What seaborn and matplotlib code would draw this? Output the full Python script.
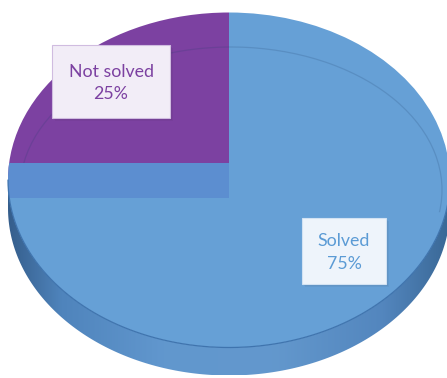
import numpy as np
import matplotlib
matplotlib.use("Agg")
import matplotlib.pyplot as plt
from matplotlib.patches import Ellipse, Polygon, Rectangle, Arc
from matplotlib.colors import LinearSegmentedColormap
import seaborn as sns

# data
categories = ["Solved", "Not solved"]
shares = [75, 25]

sns.set_theme(style="white")
plt.rcParams["font.family"] = ["Lato", "DejaVu Sans"]

face_colors = sns.color_palette(["#66A0D6", "#7C41A1"])
text_colors = ["#5B9BD5", "#7C41A1"]
box_fill = ["#EEF4FB", "#F2EDF7"]
box_edge = ["#D2E2F3", "#D0BCE0"]

W, H = 447, 378
fig = plt.figure(figsize=(W / 100, H / 100), dpi=100)
ax = fig.add_axes([0, 0, 1, 1])

# top face geometry in pixels; the pie lives in unit coordinates
cx, cy, rx, ry = 229.0, 180.0, 221.0, 167.5
depth = 28.0 / ry


def px(x, y):
    return (x - cx) / rx, (cy - y) / ry


# side wall of the disc, shaded darker towards both ends
theta = np.linspace(np.pi, 2 * np.pi, 200)
upper = np.column_stack([np.cos(theta), np.sin(theta)])
lower = np.column_stack([np.cos(theta[::-1]), np.sin(theta[::-1]) - depth])
wall = Polygon(np.vstack([upper, lower]), closed=True, fc="none", ec="none",
               transform=ax.transData)
ax.add_patch(wall)
wall_cmap = LinearSegmentedColormap.from_list(
    "wall", [(0.0, "#355E8C"), (0.12, "#4F84BC"), (0.35, "#6197CE"),
             (0.6, "#6398CD"), (0.85, "#5386BE"), (1.0, "#3A6896")])
grad = np.linspace(0, 1, 256).reshape(1, -1)
img = ax.imshow(grad, cmap=wall_cmap, extent=(-1, 1, -1 - depth, 0.05),
                aspect="auto", zorder=0.5, interpolation="bicubic")
img.set_clip_path(wall)

# top face slices
wedges, _ = ax.pie(shares, colors=face_colors, startangle=90, counterclock=False,
                   radius=1, center=(0, 0), wedgeprops=dict(linewidth=0))
for w in wedges:
    w.set_zorder(1)

# bevel ring on the upper half of the face
rcx, rcy = px(231, 190)
ring = Arc((rcx, rcy), 2 * 211 / rx, 2 * 143 / ry, theta1=-8, theta2=180,
           color="#1F3F6A", alpha=0.18, lw=0.9, zorder=2)
ax.add_patch(ring)

# cut face strip along the nine o'clock edge
face_clip = Ellipse((0, 0), 2, 2, transform=ax.transData)
bx0, by0 = px(0, 198)
bx1, by1 = px(cx, 163)
band = Rectangle((-1.1, by0), 1.1, by1 - by0, fc="#5C8ED0", ec="none", zorder=3)
ax.add_patch(band)
band.set_clip_path(face_clip)

# rim line where the face meets the wall
ax.plot(np.cos(theta), np.sin(theta), color="#3F74AE", lw=0.9, zorder=4)

# data labels
label_boxes = {"Solved": (302, 218, 386, 284), "Not solved": (52, 45, 170, 118)}
for i, (name, val) in enumerate(zip(categories, shares)):
    x0, y0, x1, y1 = label_boxes[name]
    pct = 100 * val / sum(shares)
    # soft shadow
    for k, a in enumerate([0.05, 0.05, 0.04]):
        sx, sy = px(x0 + 1 + k, y1 + 1 + k)
        ex, ey = px(x1 + 1 + k, y0 + 1 + k)
        ax.add_patch(Rectangle((sx, sy), ex - sx, ey - sy, fc="#000000",
                               alpha=a, ec="none", zorder=5))
    bl, bb = px(x0, y1)
    br, bt = px(x1, y0)
    ax.add_patch(Rectangle((bl, bb), br - bl, bt - bb, fc=box_fill[i],
                           ec=box_edge[i], lw=0.8, zorder=6))
    tx, ty = px((x0 + x1) / 2, (y0 + y1) / 2 + 1.5)
    ax.text(tx, ty, f"{name}\n{pct:.0f}%", ha="center", va="center",
            fontsize=12.8, color=text_colors[i], linespacing=1.5, zorder=7)

ax.set_aspect("auto")
ax.set_xlim((0 - cx) / rx, (W - cx) / rx)
ax.set_ylim((cy - H) / ry, cy / ry)
ax.axis("off")

fig.savefig("out.png", dpi=100)
